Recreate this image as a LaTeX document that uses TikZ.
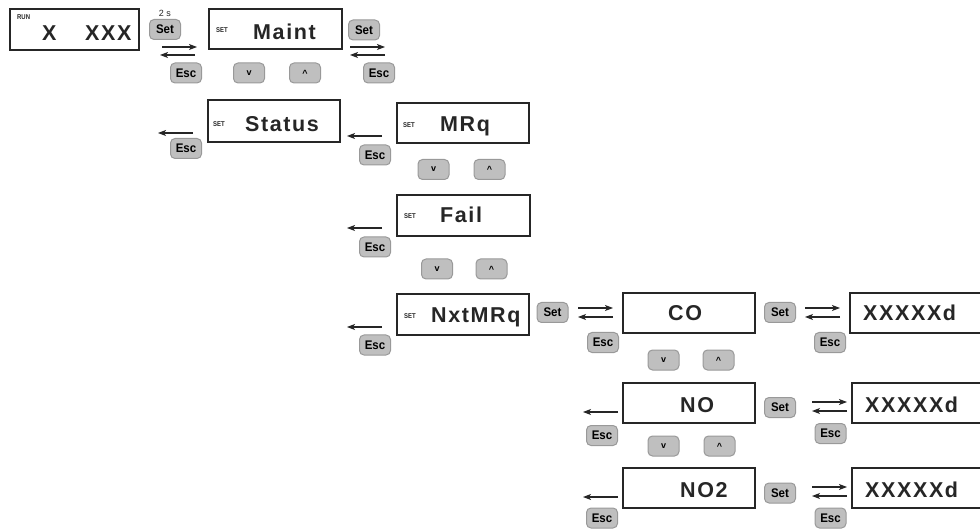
\documentclass[tikz,border=0pt]{standalone}
\usepackage{fontspec}
\setmainfont{Liberation Sans}
\newfontfamily\bigfont[LetterSpace=7.5]{Liberation Sans}
\newfontfamily\btnfont[FakeStretch=0.92]{Liberation Sans}
\newfontfamily\smallfont[FakeStretch=0.85]{Liberation Sans}
\usetikzlibrary{arrows.meta}
\definecolor{ink}{HTML}{262626}
\definecolor{btnfill}{HTML}{BFBFBF}
\definecolor{btnline}{HTML}{999999}
\tikzset{
  lcd/.style={draw=ink, line width=2.8pt, fill=white, inner sep=0pt},
  bigtxt/.style={anchor=base west, inner sep=0pt, text=ink, font=\bigfont\bfseries\fontsize{21.5}{21.5}\selectfont},
  settxt/.style={anchor=base west, inner sep=0pt, text=ink, font=\smallfont\bfseries\fontsize{7}{7}\selectfont},
  btn/.style={draw=btnline, fill=btnfill, line width=1pt, rounded corners=4.5pt, minimum width=31pt, minimum height=20pt, inner sep=0pt, font=\btnfont\bfseries\fontsize{12.5}{12.5}\selectfont, text=black},
  arrbtn/.style={btn, font=\bfseries\fontsize{9}{9}\selectfont},
  arr/.style={-{Stealth[length=8pt,width=6pt,inset=2pt]}, line width=1.1pt, draw=ink},
}
\begin{document}
\begin{tikzpicture}[x=1pt,y=-1pt]
\useasboundingbox (0,0) rectangle (980,529);

% ---------- display boxes ----------
\node[lcd, minimum width=129pt, minimum height=41pt] (run) at (74.5,29.5) {};
\node[lcd, minimum width=133pt, minimum height=40pt] (maint) at (275.5,29) {};
\node[lcd, minimum width=132pt, minimum height=42pt] (status) at (274,121) {};
\node[lcd, minimum width=132pt, minimum height=40pt] (mrq) at (463,123) {};
\node[lcd, minimum width=133pt, minimum height=41pt] (fail) at (463.5,215.5) {};
\node[lcd, minimum width=132pt, minimum height=41pt] (nxt) at (463,314.5) {};
\node[lcd, minimum width=132pt, minimum height=40pt] (co) at (689,313) {};
\node[lcd, minimum width=132pt, minimum height=40pt] (no) at (689,403) {};
\node[lcd, minimum width=132pt, minimum height=40pt] (notwo) at (689,488) {};
\node[lcd, minimum width=136pt, minimum height=40pt] (xa) at (918,313) {};
\node[lcd, minimum width=136pt, minimum height=40pt] (xb) at (920,403) {};
\node[lcd, minimum width=136pt, minimum height=40pt] (xc) at (920,488) {};

% ---------- texts ----------
\node[settxt] (runl) at (17,20) {RUN};
\node[bigtxt] (runx) at (42,41) {X};
\node[bigtxt] (runxxx) at (85,41) {XXX};
\node[settxt] (maintl) at (216,33) {SET};
\node[bigtxt] (maintt) at (253,40) {Maint};
\node[settxt] (statusl) at (213,127) {SET};
\node[bigtxt] (statust) at (245,132) {Status};
\node[settxt] (mrql) at (403,128) {SET};
\node[bigtxt] (mrqt) at (440,132) {MRq};
\node[settxt] (faill) at (404,219) {SET};
\node[bigtxt] (failt) at (440,223) {Fail};
\node[settxt] (nxtl) at (404,319) {SET};
\node[bigtxt] (nxtt) at (431,323) {NxtMRq};
\node[bigtxt] (cot) at (668,320) {CO};
\node[bigtxt] (not) at (680,412) {NO};
\node[bigtxt] (notwot) at (680,497) {NO2};
\node[bigtxt] (xat) at (863,320) {XXXXXd};
\node[bigtxt] (xbt) at (865,412) {XXXXXd};
\node[bigtxt] (xct) at (865,497) {XXXXXd};
\node[anchor=base, inner sep=0pt, text=ink, font=\fontsize{9}{9}\selectfont] (twos) at (165,17) {2 s};

% ---------- buttons ----------
\node[btn] (set0) at (165,29.5) {Set};
\node[btn] (esc0) at (186,73) {Esc};
\node[arrbtn] (v0) at (249,73) {v};
\node[arrbtn] (up0) at (305,73) {\textasciicircum};
\node[btn] (set1) at (364,30) {Set};
\node[btn] (esc1) at (379,73) {Esc};
\node[btn] (escs) at (186,148.5) {Esc};
\node[btn] (escm) at (375,155) {Esc};
\node[arrbtn] (v1) at (433.5,169.5) {v};
\node[arrbtn] (up1) at (489.5,169.5) {\textasciicircum};
\node[btn] (escf) at (375,247) {Esc};
\node[arrbtn] (v2) at (437,269) {v};
\node[arrbtn] (up2) at (491.5,269) {\textasciicircum};
\node[btn] (escn) at (375,345) {Esc};
\node[btn] (set2) at (552.5,312.5) {Set};
\node[btn] (escc) at (603,342.5) {Esc};
\node[arrbtn] (v3) at (663.5,360) {v};
\node[arrbtn] (up3) at (718.5,360) {\textasciicircum};
\node[btn] (set3) at (780,312.5) {Set};
\node[btn] (escxa) at (830,342.5) {Esc};
\node[btn] (escno) at (602,435.5) {Esc};
\node[arrbtn] (v4) at (663.5,446) {v};
\node[arrbtn] (up4) at (719.5,446) {\textasciicircum};
\node[btn] (set4) at (780,407.5) {Set};
\node[btn] (escxb) at (830.5,433.5) {Esc};
\node[btn] (escnotwo) at (602,518) {Esc};
\node[btn] (set5) at (780,493) {Set};
\node[btn] (escxc) at (830.5,518) {Esc};

% ---------- arrow end points ----------
\coordinate (a1) at (162,47); \coordinate (a2) at (197,47);
\coordinate (a3) at (195,55); \coordinate (a4) at (160,55);
\coordinate (b1) at (350,47); \coordinate (b2) at (385,47);
\coordinate (b3) at (385,55); \coordinate (b4) at (350,55);
\coordinate (s1) at (193,133); \coordinate (s2) at (158,133);
\coordinate (m1) at (382,136); \coordinate (m2) at (347,136);
\coordinate (f1) at (382,228); \coordinate (f2) at (347,228);
\coordinate (n1) at (382,327); \coordinate (n2) at (347,327);
\coordinate (c1) at (578,308); \coordinate (c2) at (613,308);
\coordinate (c3) at (613,317); \coordinate (c4) at (578,317);
\coordinate (d1) at (805,308); \coordinate (d2) at (840,308);
\coordinate (d3) at (840,317); \coordinate (d4) at (805,317);
\coordinate (o1) at (618,412); \coordinate (o2) at (583,412);
\coordinate (e1) at (812,402); \coordinate (e2) at (847,402);
\coordinate (e3) at (847,411); \coordinate (e4) at (812,411);
\coordinate (p1) at (618,497); \coordinate (p2) at (583,497);
\coordinate (g1) at (812,487); \coordinate (g2) at (847,487);
\coordinate (g3) at (847,496); \coordinate (g4) at (812,496);

% ---------- arrows ----------
\draw[arr] (a1) -- (a2); \draw[arr] (a3) -- (a4);
\draw[arr] (b1) -- (b2); \draw[arr] (b3) -- (b4);
\draw[arr] (s1) -- (s2);
\draw[arr] (m1) -- (m2);
\draw[arr] (f1) -- (f2);
\draw[arr] (n1) -- (n2);
\draw[arr] (c1) -- (c2); \draw[arr] (c3) -- (c4);
\draw[arr] (d1) -- (d2); \draw[arr] (d3) -- (d4);
\draw[arr] (o1) -- (o2);
\draw[arr] (e1) -- (e2); \draw[arr] (e3) -- (e4);
\draw[arr] (p1) -- (p2);
\draw[arr] (g1) -- (g2); \draw[arr] (g3) -- (g4);
\end{tikzpicture}
\end{document}
